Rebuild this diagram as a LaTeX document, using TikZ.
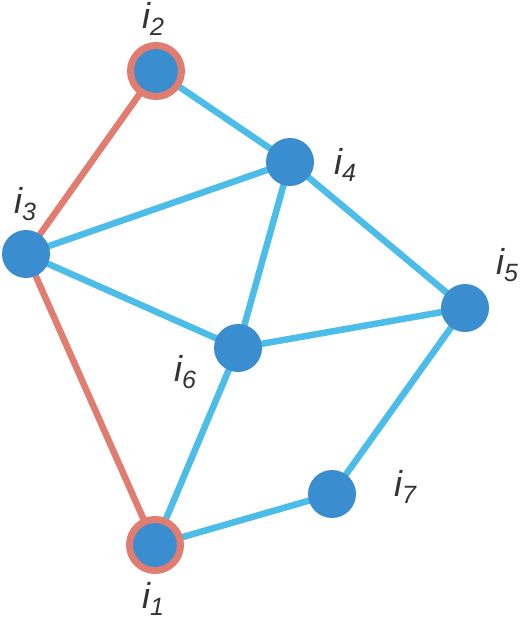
\documentclass[tikz,border=0pt]{standalone}
\usepackage{fontspec}
\setmainfont{Liberation Sans}
\definecolor{nodeblue}{HTML}{3A8ECF}
\definecolor{edgeblue}{HTML}{4CBDE9}
\definecolor{edgered}{HTML}{E07C70}
\definecolor{labelgray}{HTML}{333333}
\tikzset{
  vtx/.style={circle, fill=nodeblue, minimum size=48pt, inner sep=0pt},
  vtxred/.style={circle, fill=nodeblue, draw=edgered, line width=7pt, minimum size=51pt, inner sep=0pt},
  eb/.style={draw=edgeblue, line width=6.5pt},
  er/.style={draw=edgered, line width=6.5pt},
  lbl/.style={text=labelgray, font=\fontsize{36}{38}\selectfont\itshape, inner sep=0pt}
}
\newcommand{\lab}[1]{i\raisebox{-7pt}{\fontsize{25}{28}\selectfont #1}}
\begin{document}
\begin{tikzpicture}[x=1pt,y=-1pt]
\useasboundingbox (0,0) rectangle (522,621);
\coordinate (c2) at (156,71);
\coordinate (c4) at (290,162);
\coordinate (c3) at (26,254);
\coordinate (c5) at (465,308);
\coordinate (c6) at (238,348);
\coordinate (c7) at (332,494);
\coordinate (c1) at (155,545);
\draw[er] (c2) -- (c3);
\draw[er] (c3) -- (c1);
\draw[eb] (c2) -- (c4);
\draw[eb] (c3) -- (c4);
\draw[eb] (c3) -- (c6);
\draw[eb] (c4) -- (c6);
\draw[eb] (c4) -- (c5);
\draw[eb] (c6) -- (c5);
\draw[eb] (c6) -- (c1);
\draw[eb] (c1) -- (c7);
\draw[eb] (c7) -- (c5);
\node[vtxred] (n2) at (c2) {};
\node[vtx] (n4) at (c4) {};
\node[vtx] (n3) at (c3) {};
\node[vtx] (n5) at (c5) {};
\node[vtx] (n6) at (c6) {};
\node[vtx] (n7) at (c7) {};
\node[vtxred] (n1) at (c1) {};
\node[lbl] (l2) at (153,19) {\lab{2}};
\node[lbl] (l4) at (345,165) {\lab{4}};
\node[lbl] (l3) at (25,204) {\lab{3}};
\node[lbl] (l5) at (507,265) {\lab{5}};
\node[lbl] (l6) at (185,372) {\lab{6}};
\node[lbl] (l7) at (405,487) {\lab{7}};
\node[lbl] (l1) at (153,599) {\lab{1}};
\end{tikzpicture}
\end{document}
